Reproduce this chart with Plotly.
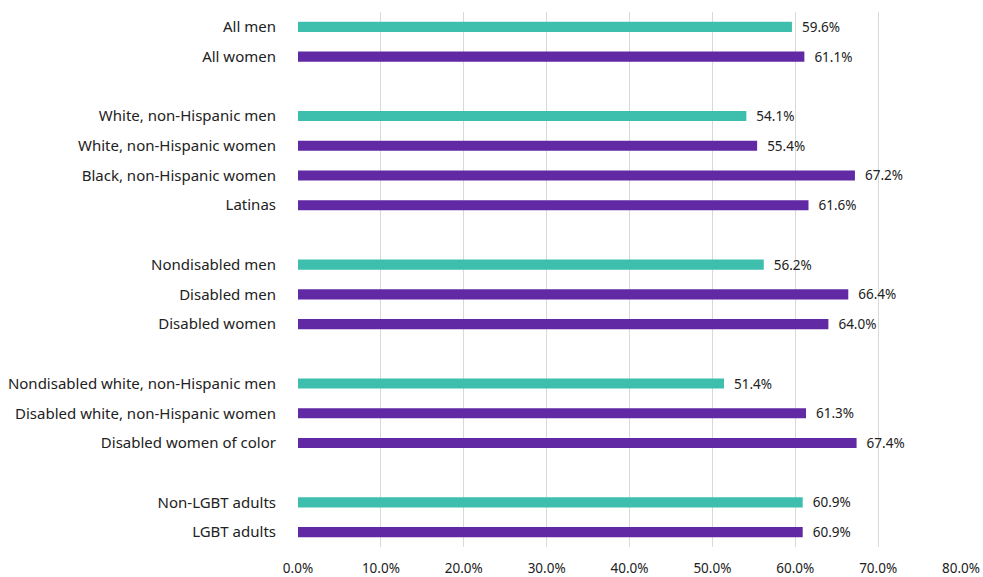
import plotly.graph_objects as go

# Data ("" = spacer row between groups)
categories = [
    "All men", "All women", "",
    "White, non-Hispanic men", "White, non-Hispanic women",
    "Black, non-Hispanic women", "Latinas", "",
    "Nondisabled men", "Disabled men", "Disabled women", "",
    "Nondisabled white, non-Hispanic men", "Disabled white, non-Hispanic women",
    "Disabled women of color", "",
    "Non-LGBT adults", "LGBT adults",
]
values = [
    59.6, 61.1, None,
    54.1, 55.4, 67.2, 61.6, None,
    56.2, 66.4, 64.0, None,
    51.4, 61.3, 67.4, None,
    60.9, 60.9,
]
is_reference_group = [
    True, False, False,
    True, False, False, False, False,
    True, False, False, False,
    True, False, False, False,
    True, False,
]
x_ticks = [0, 10, 20, 30, 40, 50, 60, 70, 80]

TEAL = "#3EBFAE"
PURPLE = "#6129A3"
FONT = "Noto Sans, Liberation Sans, sans-serif"

pos = list(range(len(categories)))
keep = [i for i, v in enumerate(values) if v is not None]

fig = go.Figure(
    go.Bar(
        x=[values[i] for i in keep],
        y=[pos[i] for i in keep],
        orientation="h",
        width=0.34,
        marker=dict(
            color=[TEAL if is_reference_group[i] else PURPLE for i in keep],
            line=dict(width=0),
        ),
        text=["  %.1f%%" % values[i] for i in keep],
        textposition="outside",
        constraintext="none",
        textfont=dict(family=FONT, size=13.5, color="#222222"),
        cliponaxis=False,
        hoverinfo="skip",
    )
)

fig.update_layout(
    width=983,
    height=577,
    margin=dict(l=298, r=22, t=12, b=30),
    paper_bgcolor="white",
    plot_bgcolor="white",
    showlegend=False,
    font=dict(family=FONT, size=13.5, color="#222222"),
    xaxis=dict(
        range=[0, 80],
        tickvals=x_ticks,
        ticktext=["%.1f%%" % t for t in x_ticks],
        showgrid=True,
        gridcolor="#D9D9D9",
        gridwidth=1,
        zeroline=False,
        showline=False,
        ticks="outside",
        ticklen=9,
        tickcolor="rgba(0,0,0,0)",
        tickfont=dict(family=FONT, size=13.5, color="#222222"),
        automargin=False,
    ),
    yaxis=dict(
        range=[len(categories) - 0.5, -0.5],
        tickvals=[pos[i] for i in keep],
        ticktext=[categories[i] for i in keep],
        showgrid=False,
        zeroline=False,
        showline=False,
        ticks="outside",
        ticklen=18,
        tickcolor="rgba(0,0,0,0)",
        tickfont=dict(family=FONT, size=15, color="#222222"),
        automargin=False,
    ),
)

fig.write_html("out.html")
